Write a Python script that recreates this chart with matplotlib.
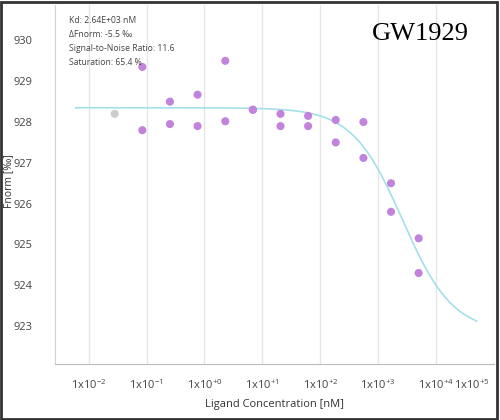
import numpy as np
import matplotlib
matplotlib.use("Agg")
import matplotlib.pyplot as plt
import matplotlib.transforms as mtrans
from matplotlib.patches import Rectangle

# ligand concentrations (nM), two replicates per concentration
conc = [5000, 1667, 556, 185, 61.7, 20.6, 6.86, 2.29, 0.762, 0.254, 0.0847]
rep1 = [925.15, 926.5, 928.0, 928.05, 928.15, 928.2, 928.3, 929.5, 928.67, 928.5, 929.35]
rep2 = [924.3, 925.8, 927.12, 927.5, 927.9, 927.9, 928.3, 928.02, 927.9, 927.95, 927.8]
# excluded point
excl_conc = [0.0282]
excl_val = [928.2]

# fit parameters
kd = 2.64e3
f_unbound = 928.35
delta = -5.5
fit_range = (10 ** -2.22, 10 ** 4.7)

xtick_exp = [-2, -1, 0, 1, 2, 3, 4, 5]
yticks = [923, 924, 925, 926, 927, 928, 929, 930]

plt.rcParams["font.family"] = ["Open Sans", "DejaVu Sans"]

fig = plt.figure(figsize=(5, 4.2), dpi=100)
ax = fig.add_axes([0.11, 0.1333, 0.878, 0.855])

cfit = np.logspace(np.log10(fit_range[0]), np.log10(fit_range[1]), 300)
ffit = f_unbound + delta * cfit / (cfit + kd)
ax.plot(cfit, ffit, color="#a3e0ea", lw=1.2, zorder=2)

ax.scatter(conc, rep1, s=34, color="#c283dc", edgecolors="none", zorder=3)
ax.scatter(conc, rep2, s=34, color="#c283dc", edgecolors="none", zorder=3)
ax.scatter(excl_conc, excl_val, s=34, color="#cccccc", edgecolors="none", zorder=3)

ax.set_xscale("log")
ax.set_xlim(10 ** -2.58, 10 ** 4.95)
ax.set_ylim(922.07, 930.87)
ax.set_xticks([10.0 ** e for e in xtick_exp])
ax.set_xticklabels([r"$\mathregular{1x10^{%s}}$" % (("+%d" % e) if e >= 0 else ("%d" % e)) for e in xtick_exp])
ax.xaxis.set_minor_locator(matplotlib.ticker.NullLocator())
ax.set_yticks(yticks)
ax.tick_params(axis="both", length=0, labelsize=8, colors="#444444")
ax.tick_params(axis="y", pad=16)
ax.tick_params(axis="x", pad=10)
ax.grid(axis="x", color="#e6e6e6", lw=1)
ax.set_axisbelow(True)
for s in ["top", "right"]:
    ax.spines[s].set_visible(False)
ax.spines["left"].set_color("#d0d0d0")
ax.spines["bottom"].set_color("#bbbbbb")

# last tick label squeezed inside the frame
last = ax.get_xticklabels()[-1]
last.set_horizontalalignment("right")
last.set_transform(last.get_transform() + mtrans.ScaledTranslation(-3 / 72, 0, fig.dpi_scale_trans))

ax.set_xlabel("Ligand Concentration [nM]", fontsize=8, color="#333333", labelpad=5)
ax.set_ylabel("Fnorm [‰]", fontsize=7.5, color="#333333", labelpad=0)
ax.yaxis.set_label_coords(-0.094, 0.51)

info = "Kd: 2.64E+03 nM\nΔFnorm: -5.5 ‰\nSignal-to-Noise Ratio: 11.6\nSaturation: 65.4 %"
fig.text(0.138, 0.962, info, fontsize=6.2, color="#444444", va="top", ha="left", linespacing=1.7)
fig.text(0.84, 0.92, "GW1929", fontsize=19, family="Liberation Serif", ha="center", va="center")

fig.patches.append(Rectangle((0.002, 0.002), 0.992, 0.993, transform=fig.transFigure,
                             fill=False, edgecolor="#333333", lw=2))

plt.savefig("out.png")
